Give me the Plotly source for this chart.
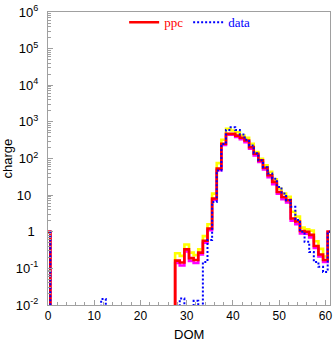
import plotly.graph_objects as go

# ---- data (DOM bins 0..61, bin centred on integer) ----
dom = list(range(0, 62))

ppc = [1] + [0]*27 + [0.163, 0.144, 0.33, 0.19, 0.17, 0.27, 0.57, 1.23, 8.1, 53,
       252, 470, 470, 420, 370, 310, 205, 135, 89, 56,
       35, 23, 12.2, 8.9, 7.3, 2.3, 1.9, 1.05, 1.0, 0.82,
       0.41, 0.24, 0.17, 1]
ppc_up = [1] + [0]*27 + [0.26, 0.22, 0.45, 0.27, 0.23, 0.33, 0.76, 1.6, 11, 75,
          324, 646, 580, 520, 425, 366, 252, 150, 98, 65,
          43, 27, 15, 11, 9, 3.5, 2.6, 1.3, 1.16, 1.07,
          0.55, 0.34, 0.21, 1]
ppc_lo = [1] + [0]*27 + [0.14, 0.12, 0.29, 0.16, 0.14, 0.24, 0.5, 1.1, 7.5, 48,
          235, 445, 445, 390, 335, 280, 185, 122, 80, 50,
          31, 20, 11, 7.8, 6.3, 2.0, 1.6, 0.9, 0.88, 0.7,
          0.36, 0.21, 0.15, 1]
data = [1] + [0]*11 + [0.0145] + [0]*16 + [0.015, 0, 0, 0.013, 0, 0.15, 0.6, 6.5, 47,
        250, 600, 710, 600, 450, 325, 228, 140, 89, 58,
        39, 28, 16.7, 11, 7.3, 4.8, 2.1, 1.0, 0.53, 0.28,
        0.15, 0.11, 0.08, 1]

y_decades = list(range(-2, 7))
x_ticks = [0, 10, 20, 30, 40, 50, 60]

FLOOR = 1e-6


def steps(vals):
    xs = [d - 0.5 for d in dom] + [dom[-1] + 0.5]
    ys = [v if v > 0 else FLOOR for v in vals]
    ys = ys + [ys[-1]]
    return xs, ys


fig = go.Figure()

for vals, col, name in [
    (ppc_up, "#ffff00", "ppc+"),
    (ppc_lo, "#ff00ff", "ppc-"),
]:
    xs, ys = steps(vals)
    fig.add_trace(go.Scatter(x=xs, y=ys, mode="lines", line=dict(color=col, width=2.6, shape="hv"),
                             showlegend=False, name=name, hoverinfo="skip"))

xs, ys = steps(ppc)
fig.add_trace(go.Scatter(x=xs, y=ys, mode="lines", line=dict(color="#ff0000", width=2.6, shape="hv"),
                         name='<span style="color:#ff0000">ppc</span>'))
xs, ys = steps(data)
fig.add_trace(go.Scatter(x=xs, y=ys, mode="lines",
                         line=dict(color="#0000ff", width=2, shape="hv", dash="2px,2px"),
                         name='<span style="color:#0000ff">data</span>'))


def ylab(e):
    if e == 0:
        return "1&nbsp;"
    if e == 1:
        return "10&nbsp;&nbsp;"
    return "10<sup>%d</sup>" % e


axcol = "#a0a0a0"
fig.update_layout(
    width=335, height=342,
    margin=dict(l=48, r=3, t=9, b=37),
    paper_bgcolor="white", plot_bgcolor="white",
    font=dict(family="Liberation Sans, Arial, sans-serif", size=12, color="black"),
    showlegend=True,
    legend=dict(orientation="h", x=0.27, y=0.965, xanchor="left", yanchor="middle",
                bgcolor="rgba(0,0,0,0)", itemwidth=30,
                font=dict(family="Liberation Serif, Times New Roman, serif", size=13),
                tracegroupgap=0),
    xaxis=dict(range=[0, 61], showgrid=False, zeroline=False,
               showline=True, linecolor=axcol, linewidth=1, mirror=True,
               tickmode="array", tickvals=x_ticks, ticktext=[str(t) for t in x_ticks],
               ticks="inside", ticklen=5, tickcolor=axcol,
               minor=dict(ticks="inside", dtick=2, tick0=0, ticklen=3, tickcolor=axcol),
               tickfont=dict(size=12)),
    yaxis=dict(type="log", range=[-2, 6], showgrid=False, zeroline=False,
               showline=True, linecolor=axcol, linewidth=1, mirror=True,
               tickmode="array", tickvals=[10.0**e for e in y_decades],
               ticktext=[ylab(e) for e in y_decades],
               ticks="inside", ticklen=5, tickcolor=axcol, ticklabelstandoff=6,
               ticklabeloverflow="allow",
               minor=dict(ticks="inside", ticklen=3, tickcolor=axcol,
                          tickmode="array",
                          tickvals=[m * 10.0**e for e in range(-2, 6) for m in range(2, 10)]),
               tickfont=dict(size=13)),
    annotations=[
        dict(text="DOM", xref="paper", yref="paper", x=0.5, y=0, yshift=-29,
             xanchor="center", yanchor="middle", showarrow=False, font=dict(size=13)),
        dict(text="charge", xref="paper", yref="paper", x=0, xshift=-41, y=0.5,
             xanchor="center", yanchor="middle", textangle=-90, showarrow=False,
             font=dict(size=13)),
    ],
)

fig.write_html("out.html")
